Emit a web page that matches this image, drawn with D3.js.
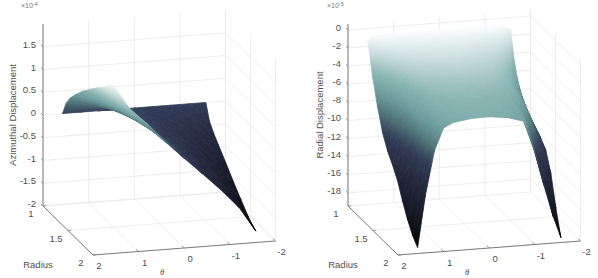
<!DOCTYPE html>
<html>
<head>
<meta charset="utf-8">
<script src="https://cdn.jsdelivr.net/npm/d3@7"></script>
<style>
  html, body { margin: 0; padding: 0; background: #fff; }
  svg { display: block; }
  text { font-family: "Liberation Sans", Arial, sans-serif; fill: #505050; }
</style>
</head>
<body>
<svg id="chart" width="598" height="278"></svg>
<script>
/* SECTION: data */

var thetaTicks = [2, 1, 0, -1, -2];
var radiusTicks = [1, 1.5, 2];

var azimuthalTicks = [-2, -1.5, -1, -0.5, 0, 0.5, 1, 1.5];
var azimuthalTheta = [-1.57, -1.2, -0.8, -0.4, 0, 0.4, 0.8, 1.2, 1.57];
var azimuthalRadius = [1, 1.07, 1.15, 1.25, 1.4, 1.55, 1.7, 1.85, 2];
var azimuthalValues = [
  [0, 0, 0, 0, 0, 0, 0, 0, 0],
  [-0.33, -0.22, -0.14, -0.07, 0, 0.07, 0.14, 0.2, 0.3],
  [-0.5, -0.36, -0.24, -0.12, 0, 0.12, 0.24, 0.35, 0.5],
  [-0.66, -0.48, -0.31, -0.16, 0, 0.16, 0.31, 0.47, 0.68],
  [-0.9, -0.66, -0.42, -0.21, 0, 0.21, 0.42, 0.64, 0.92],
  [-1.15, -0.82, -0.52, -0.26, 0, 0.26, 0.52, 0.78, 1.12],
  [-1.38, -0.97, -0.6, -0.3, 0, 0.3, 0.6, 0.9, 1.32],
  [-1.6, -1.08, -0.69, -0.35, 0, 0.35, 0.69, 1.02, 1.5],
  [-1.75, -1.2, -0.78, -0.4, -0.03, 0.35, 0.78, 1.16, 1.72]
];

var radialTicks = [-18, -16, -14, -12, -10, -8, -6, -4, -2, 0];
var radialTheta = [-1.57, -1.4, -1.2, -1, -0.8, -0.4, 0, 0.4, 0.8, 1, 1.2, 1.4, 1.57];
var radialRadius = [1, 1.04, 1.1, 1.2, 1.3, 1.4, 1.5, 1.6, 1.7, 1.8, 1.9, 2];
var radialValues = [
  [-1.3, -0.9, -0.8, -0.8, -0.8, -0.8, -0.8, -0.8, -0.8, -0.8, -0.8, -0.85, -1.3],
  [-3.4, -1.4, -1.1, -1, -1, -1, -1, -1, -1, -1, -1.1, -1.5, -2.6],
  [-5.4, -2.8, -1.9, -1.6, -1.5, -1.4, -1.4, -1.4, -1.5, -1.6, -1.9, -2.9, -4.8],
  [-7.3, -4.6, -3.2, -2.6, -2.3, -2.1, -2, -2.1, -2.3, -2.6, -3.2, -5, -7.6],
  [-8.4, -5.9, -4.2, -3.4, -3, -2.7, -2.6, -2.7, -3, -3.4, -4.3, -6.8, -9.9],
  [-9.3, -6.9, -5, -4, -3.5, -3.2, -3.1, -3.2, -3.5, -4.1, -5.2, -8, -11.4],
  [-9.7, -7.7, -5.6, -4.5, -4, -3.7, -3.6, -3.7, -4, -4.6, -5.8, -9, -12.4],
  [-10.1, -8.4, -6.2, -5, -4.4, -4, -4, -4, -4.3, -4.9, -6.4, -10.2, -13.6],
  [-10.9, -9.4, -7.2, -5.6, -4.7, -4.4, -4.3, -4.3, -4.6, -5.2, -6.9, -11.3, -15.3],
  [-12.9, -11, -8.8, -6.6, -5, -4.7, -4.6, -4.6, -4.9, -5.4, -7.3, -12.2, -16.8],
  [-16.2, -13.3, -10.8, -7.8, -5.4, -4.9, -4.8, -4.8, -5.1, -5.6, -7.8, -12.8, -18],
  [-18.9, -16.5, -13, -9.2, -5.8, -5.2, -4.95, -5, -5.3, -5.8, -8.2, -13.1, -18.8]
];

var colormapStops = [0, 0.2, 0.35, 0.5, 0.6, 0.7, 0.8, 0.9, 1];
var colormapColors = ["#050507", "#181a28", "#23283d", "#323c57", "#4f7478",
                      "#6d9c9c", "#8ab5b3", "#c6dbda", "#fafcfc"];

/* SECTION: drawing */

var svg = d3.select("#chart");
var defs = svg.append("defs");
var gradientCount = 0;

// fill for one triangle: a gradient running across its iso-value lines,
// so the colour stays continuous from one triangle to the next
function triangleFill(tri, color) {
  var s = tri.slice().sort(function(a, b) { return a.v - b.v; });
  var lo = s[0], mid = s[1], hi = s[2];
  if (hi.v - lo.v < 1e-9) return color(lo.v);

  var f = (mid.v - lo.v) / (hi.v - lo.v);
  var mx = lo.p[0] + f * (hi.p[0] - lo.p[0]);
  var my = lo.p[1] + f * (hi.p[1] - lo.p[1]);
  var nx = -(mid.p[1] - my), ny = mid.p[0] - mx;
  var nn = nx * nx + ny * ny;
  var x2 = hi.p[0], y2 = hi.p[1];
  if (nn > 1e-6) {
    var k = ((hi.p[0] - lo.p[0]) * nx + (hi.p[1] - lo.p[1]) * ny) / nn;
    x2 = lo.p[0] + k * nx;
    y2 = lo.p[1] + k * ny;
  }

  var id = "tri" + (gradientCount++);
  var grad = defs.append("linearGradient").attr("id", id)
    .attr("gradientUnits", "userSpaceOnUse")
    .attr("x1", lo.p[0]).attr("y1", lo.p[1])
    .attr("x2", x2).attr("y2", y2);
  [0, 0.2, 0.4, 0.6, 0.8, 1].forEach(function(o) {
    grad.append("stop").attr("offset", o)
      .attr("stop-color", color(lo.v + o * (hi.v - lo.v)));
  });
  return "url(#" + id + ")";
}

function drawChart(opt) {
  var g = svg.append("g").attr("transform", "translate(" + opt.x0 + ",0)");

  // oblique axes: every screen offset comes from a scale per data axis
  var thetaX = d3.scaleLinear().domain([2, -2]).range([0, 182.5]);
  var thetaY = d3.scaleLinear().domain([2, -2]).range([0, -14]);
  var radiusX = d3.scaleLinear().domain([1, 2]).range([0, 50]);
  var radiusY = d3.scaleLinear().domain([1, 2]).range([0, 49]);
  var valueY = d3.scaleLinear().domain(opt.zLim).range([0, -182]);
  var originX = 43, originY = 206;

  function project(theta, radius, value) {
    return [originX + thetaX(theta) + radiusX(radius),
            originY + thetaY(theta) + radiusY(radius) + valueY(value)];
  }

  function line(a, b, color, width) {
    g.append("line")
      .attr("x1", a[0]).attr("y1", a[1]).attr("x2", b[0]).attr("y2", b[1])
      .attr("stroke", color).attr("stroke-width", width);
  }

  var zLo = opt.zLim[0], zHi = opt.zLim[1];
  var gridColor = "#e8e8e8";

  // back walls and floor grid
  opt.zTicks.forEach(function(z) {
    line(project(2, 1, z), project(-2, 1, z), gridColor, 0.8);
    line(project(-2, 1, z), project(-2, 2, z), gridColor, 0.8);
  });
  thetaTicks.forEach(function(t) {
    line(project(t, 1, zLo), project(t, 1, zHi), gridColor, 0.8);
    line(project(t, 1, zLo), project(t, 2, zLo), gridColor, 0.8);
  });
  radiusTicks.forEach(function(r) {
    line(project(-2, r, zLo), project(-2, r, zHi), gridColor, 0.8);
    line(project(2, r, zLo), project(-2, r, zLo), gridColor, 0.8);
  });

  // surface, painted far to near
  var values = d3.merge(opt.values);
  var color = d3.scaleLinear()
    .domain(colormapStops.map(function(s) {
      return d3.min(values) + s * (d3.max(values) - d3.min(values));
    }))
    .range(colormapColors)
    .interpolate(d3.interpolateRgb);

  var surface = g.append("g");
  function vertex(i, j) {
    var v = opt.values[i][j];
    return { v: v, p: project(opt.theta[j], opt.radius[i], v) };
  }
  function paint(tri) {
    var fill = triangleFill(tri, color);
    surface.append("polygon")
      .attr("points", tri.map(function(c) { return c.p.join(","); }).join(" "))
      .attr("fill", fill)
      .attr("stroke", fill)
      .attr("stroke-width", 0.8)
      .attr("stroke-linejoin", "round");
  }
  for (var i = 0; i < opt.radius.length - 1; i++) {
    for (var j = 0; j < opt.theta.length - 1; j++) {
      paint([vertex(i, j), vertex(i, j + 1), vertex(i + 1, j)]);
      paint([vertex(i, j + 1), vertex(i + 1, j + 1), vertex(i + 1, j)]);
    }
  }

  // axis lines and ticks
  var axisColor = "#707070";
  line(project(2, 1, zLo), project(2, 1, zHi), axisColor, 0.9);
  line(project(2, 1, zLo), project(2, 2, zLo), axisColor, 0.9);
  line(project(2, 2, zLo), project(-2, 2, zLo), axisColor, 0.9);

  opt.zTicks.forEach(function(z) {
    line(project(2, 1, z), project(2, 0.96, z), axisColor, 0.7);
    var p = project(2, 1, z);
    g.append("text").attr("x", p[0] - 7).attr("y", p[1] + 1)
      .attr("text-anchor", "end").attr("font-size", 9.5)
      .text(z);
  });
  thetaTicks.forEach(function(t) {
    line(project(t, 2, zLo), project(t, 1.95, zLo), axisColor, 0.7);
    var p = project(t, 2, zLo);
    g.append("text").attr("x", p[0] + 6).attr("y", p[1] + 14)
      .attr("text-anchor", "middle").attr("font-size", 9.5)
      .text(t);
  });
  radiusTicks.forEach(function(r) {
    line(project(2, r, zLo), project(1.93, r, zLo), axisColor, 0.7);
    var p = project(2, r, zLo);
    g.append("text").attr("x", p[0] - 12).attr("y", p[1] + 11)
      .attr("text-anchor", "middle").attr("font-size", 9.5)
      .text(r);
  });

  // axis titles
  g.append("text").attr("x", 38).attr("y", 268)
    .attr("text-anchor", "middle").attr("font-size", 9.5)
    .text("Radius");
  g.append("text").attr("x", 162).attr("y", 275)
    .attr("text-anchor", "middle").attr("font-size", 8.5)
    .attr("font-style", "italic").style("font-family", "Liberation Serif, serif")
    .text("θ");
  g.append("text")
    .attr("transform", "translate(" + opt.titleX + ",115) rotate(-90)")
    .attr("text-anchor", "middle").attr("font-size", 9.5)
    .text(opt.title);

  // exponent label
  var exp = g.append("text").attr("x", opt.expX).attr("y", 8)
    .attr("font-size", 7).style("fill", "#777");
  exp.append("tspan").text("×10");
  exp.append("tspan").attr("dy", -2.5).attr("font-size", 5.5).text(opt.exponent);
}

drawChart({
  x0: 0, zLim: [-2, 2], zTicks: azimuthalTicks,
  theta: azimuthalTheta, radius: azimuthalRadius, values: azimuthalValues,
  title: "Azimuthal Displacement", titleX: 16, expX: 21, exponent: "-4"
});

drawChart({
  x0: 305, zLim: [-19.45, 0.66], zTicks: radialTicks,
  theta: radialTheta, radius: radialRadius, values: radialValues,
  title: "Radial Displacement", titleX: 18, expX: 22, exponent: "-5"
});
</script>
</body>
</html>
